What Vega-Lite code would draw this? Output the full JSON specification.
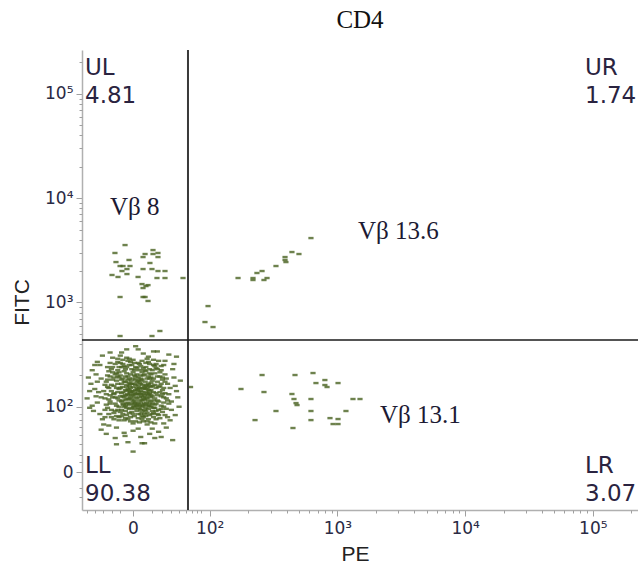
{
"$schema": "https://vega.github.io/schema/vega-lite/v6.json",
"width": 556,
"height": 460,
"autosize": {"type": "none"},
"padding": {"left": 82, "top": 50, "right": 0, "bottom": 59},
"background": "white",
"view": {"stroke": null},
"title": {"text": "CD4", "font": "Liberation Serif", "fontSize": 25, "fontWeight": "normal", "color": "#111111", "offset": 16},
"datasets": {
"events": [
{"pe":1.31,"fitc":2.05},{"pe":1.34,"fitc":2.11},{"pe":1.37,"fitc":2.02},{"pe":1.40,"fitc":2.19},{"pe":1.43,"fitc":2.08},{"pe":1.46,"fitc":2.15},{"pe":1.49,"fitc":2.03},{"pe":1.52,"fitc":2.22},{"pe":1.55,"fitc":2.10},{"pe":1.33,"fitc":2.24},
{"pe":1.36,"fitc":2.17},{"pe":1.39,"fitc":2.07},{"pe":1.42,"fitc":2.26},{"pe":1.45,"fitc":2.01},{"pe":1.48,"fitc":2.12},{"pe":1.51,"fitc":2.18},{"pe":1.54,"fitc":2.05},{"pe":1.32,"fitc":2.14},{"pe":1.35,"fitc":2.21},{"pe":1.38,"fitc":2.09},
{"pe":1.41,"fitc":2.13},{"pe":1.44,"fitc":2.20},{"pe":1.47,"fitc":2.06},{"pe":1.50,"fitc":2.14},{"pe":1.53,"fitc":2.27},{"pe":1.30,"fitc":2.10},{"pe":1.33,"fitc":2.00},{"pe":1.36,"fitc":2.26},{"pe":1.39,"fitc":2.15},{"pe":1.42,"fitc":2.04},
{"pe":1.45,"fitc":2.23},{"pe":1.48,"fitc":2.17},{"pe":1.51,"fitc":2.08},{"pe":1.54,"fitc":2.16},{"pe":1.315,"fitc":2.19},{"pe":1.345,"fitc":2.07},{"pe":1.375,"fitc":2.13},{"pe":1.405,"fitc":2.00},{"pe":1.435,"fitc":2.16},{"pe":1.465,"fitc":2.10},
{"pe":1.495,"fitc":2.24},{"pe":1.525,"fitc":2.12},{"pe":1.555,"fitc":2.20},{"pe":1.325,"fitc":2.02},{"pe":1.355,"fitc":2.12},{"pe":1.385,"fitc":2.25},{"pe":1.415,"fitc":2.09},{"pe":1.445,"fitc":2.12},{"pe":1.475,"fitc":2.21},{"pe":1.505,"fitc":2.04},
{"pe":1.535,"fitc":2.09},{"pe":1.32,"fitc":2.27},{"pe":1.35,"fitc":2.03},{"pe":1.38,"fitc":2.18},{"pe":1.41,"fitc":2.22},{"pe":1.44,"fitc":2.03},{"pe":1.47,"fitc":2.26},{"pe":1.50,"fitc":2.09},{"pe":1.53,"fitc":2.01},{"pe":1.56,"fitc":2.14},
{"pe":1.31,"fitc":2.22},{"pe":1.34,"fitc":2.16},{"pe":1.37,"fitc":2.08},{"pe":1.40,"fitc":2.11},{"pe":1.43,"fitc":2.18},{"pe":1.46,"fitc":2.04},{"pe":1.49,"fitc":2.19},{"pe":1.52,"fitc":2.06},{"pe":1.55,"fitc":2.25},{"pe":1.36,"fitc":2.04},
{"pe":1.39,"fitc":2.22},{"pe":1.42,"fitc":2.16},{"pe":1.45,"fitc":2.09},{"pe":1.48,"fitc":2.01},{"pe":1.51,"fitc":2.27},{"pe":1.54,"fitc":2.19},{"pe":1.33,"fitc":2.09},{"pe":1.37,"fitc":2.20},{"pe":1.41,"fitc":2.06},{"pe":1.44,"fitc":2.14},
{"pe":1.47,"fitc":2.18},{"pe":1.50,"fitc":2.02},{"pe":1.53,"fitc":2.15},{"pe":1.34,"fitc":2.01},{"pe":1.38,"fitc":2.14},{"pe":1.42,"fitc":2.21},{"pe":1.46,"fitc":2.12},{"pe":1.50,"fitc":2.20},{"pe":1.54,"fitc":2.11},{"pe":1.35,"fitc":2.15},
{"pe":1.39,"fitc":2.03},{"pe":1.43,"fitc":2.12},{"pe":1.47,"fitc":2.02},{"pe":1.51,"fitc":2.13},{"pe":1.40,"fitc":2.27},{"pe":1.44,"fitc":2.25},{"pe":1.48,"fitc":2.07},{"pe":1.52,"fitc":2.16},{"pe":1.36,"fitc":2.11},{"pe":1.41,"fitc":2.01},
{"pe":1.45,"fitc":2.18},{"pe":1.49,"fitc":2.11},{"pe":1.53,"fitc":2.20},{"pe":1.32,"fitc":2.06},{"pe":1.46,"fitc":2.22},{"pe":1.40,"fitc":2.15},{"pe":1.43,"fitc":2.02},{"pe":1.37,"fitc":2.23},{"pe":1.49,"fitc":2.07},{"pe":1.55,"fitc":2.03},
{"pe":1.31,"fitc":2.13},{"pe":1.57,"fitc":2.08},{"pe":1.58,"fitc":2.18},{"pe":1.29,"fitc":2.17},{"pe":1.28,"fitc":2.08},
{"pe":1.49,"fitc":1.97},{"pe":1.52,"fitc":1.98},{"pe":1.55,"fitc":1.96},{"pe":1.47,"fitc":1.95},{"pe":1.51,"fitc":1.94},{"pe":1.54,"fitc":2.00},{"pe":1.57,"fitc":1.99},{"pe":1.45,"fitc":1.98},{"pe":1.58,"fitc":2.03},{"pe":1.50,"fitc":1.99},
{"pe":1.43,"fitc":1.96},{"pe":1.41,"fitc":1.98},{"pe":1.46,"fitc":1.93},{"pe":1.53,"fitc":1.92},{"pe":1.56,"fitc":1.94},{"pe":1.48,"fitc":1.90},{"pe":1.60,"fitc":1.97},{"pe":1.59,"fitc":2.11},{"pe":1.60,"fitc":2.05},{"pe":1.61,"fitc":2.14},
{"pe":1.19,"fitc":2.12},{"pe":1.22,"fitc":2.05},{"pe":1.25,"fitc":2.20},{"pe":1.27,"fitc":2.01},{"pe":1.20,"fitc":2.26},{"pe":1.23,"fitc":1.97},{"pe":1.26,"fitc":2.31},{"pe":1.28,"fitc":2.14},{"pe":1.21,"fitc":2.18},{"pe":1.24,"fitc":2.09},
{"pe":1.27,"fitc":2.25},{"pe":1.19,"fitc":2.02},{"pe":1.22,"fitc":2.29},{"pe":1.25,"fitc":1.94},{"pe":1.28,"fitc":2.35},{"pe":1.30,"fitc":1.95},{"pe":1.23,"fitc":2.15},{"pe":1.26,"fitc":2.03},{"pe":1.29,"fitc":2.28},{"pe":1.21,"fitc":1.93},
{"pe":1.24,"fitc":2.33},{"pe":1.27,"fitc":1.91},{"pe":1.18,"fitc":2.21},{"pe":1.25,"fitc":2.12},{"pe":1.29,"fitc":2.00},
{"pe":1.59,"fitc":2.24},{"pe":1.62,"fitc":2.01},{"pe":1.64,"fitc":2.18},{"pe":1.66,"fitc":2.08},{"pe":1.61,"fitc":2.29},{"pe":1.63,"fitc":1.95},{"pe":1.65,"fitc":2.13},{"pe":1.67,"fitc":2.22},{"pe":1.60,"fitc":1.92},{"pe":1.62,"fitc":2.10},
{"pe":1.64,"fitc":2.04},{"pe":1.66,"fitc":1.98},{"pe":1.63,"fitc":2.26},{"pe":1.68,"fitc":2.12},{"pe":1.61,"fitc":2.20},
{"pe":1.30,"fitc":2.30},{"pe":1.34,"fitc":2.36},{"pe":1.38,"fitc":2.31},{"pe":1.42,"fitc":2.38},{"pe":1.46,"fitc":2.30},{"pe":1.50,"fitc":2.34},{"pe":1.54,"fitc":2.31},{"pe":1.58,"fitc":2.37},{"pe":1.32,"fitc":2.41},{"pe":1.36,"fitc":2.29},
{"pe":1.40,"fitc":2.33},{"pe":1.44,"fitc":2.42},{"pe":1.48,"fitc":2.37},{"pe":1.52,"fitc":2.29},{"pe":1.56,"fitc":2.40},{"pe":1.35,"fitc":2.38},{"pe":1.41,"fitc":2.30},{"pe":1.47,"fitc":2.33},{"pe":1.53,"fitc":2.36},{"pe":1.39,"fitc":2.40},
{"pe":1.45,"fitc":2.35},{"pe":1.29,"fitc":2.38},{"pe":1.43,"fitc":2.31},{"pe":1.50,"fitc":2.42},{"pe":1.57,"fitc":2.32},
{"pe":1.31,"fitc":1.97},{"pe":1.35,"fitc":1.92},{"pe":1.39,"fitc":1.95},{"pe":1.44,"fitc":1.89},{"pe":1.48,"fitc":1.86},{"pe":1.52,"fitc":1.88},{"pe":1.56,"fitc":1.90},{"pe":1.33,"fitc":1.87},{"pe":1.37,"fitc":1.98},{"pe":1.41,"fitc":1.91},
{"pe":1.45,"fitc":1.85},{"pe":1.50,"fitc":1.91},{"pe":1.54,"fitc":1.85},{"pe":1.58,"fitc":1.88},{"pe":1.29,"fitc":1.90},{"pe":1.42,"fitc":1.86},{"pe":1.36,"fitc":1.88},{"pe":1.47,"fitc":1.88},{"pe":1.40,"fitc":1.84},{"pe":1.34,"fitc":1.96},
{"pe":1.38,"fitc":1.90},{"pe":1.57,"fitc":1.84},{"pe":1.51,"fitc":1.83},{"pe":1.44,"fitc":1.93},{"pe":1.32,"fitc":1.93},
{"pe":1.20,"fitc":2.30},{"pe":1.23,"fitc":2.36},{"pe":1.26,"fitc":2.41},{"pe":1.29,"fitc":2.33},{"pe":1.32,"fitc":2.45},{"pe":1.35,"fitc":2.32},{"pe":1.38,"fitc":2.43},{"pe":1.41,"fitc":2.35},{"pe":1.44,"fitc":2.28},{"pe":1.47,"fitc":2.44},
{"pe":1.50,"fitc":2.38},{"pe":1.53,"fitc":2.32},{"pe":1.56,"fitc":2.45},{"pe":1.59,"fitc":2.29},{"pe":1.62,"fitc":2.35},{"pe":1.65,"fitc":2.31},{"pe":1.22,"fitc":2.42},{"pe":1.25,"fitc":2.28},{"pe":1.28,"fitc":2.46},{"pe":1.31,"fitc":2.38},
{"pe":1.34,"fitc":2.29},{"pe":1.37,"fitc":2.40},{"pe":1.40,"fitc":2.45},{"pe":1.43,"fitc":2.37},{"pe":1.46,"fitc":2.27},{"pe":1.49,"fitc":2.31},{"pe":1.52,"fitc":2.43},{"pe":1.55,"fitc":2.35},{"pe":1.58,"fitc":2.41},{"pe":1.61,"fitc":2.33},
{"pe":1.64,"fitc":2.40},{"pe":1.24,"fitc":2.38},{"pe":1.27,"fitc":2.32},{"pe":1.30,"fitc":2.42},{"pe":1.33,"fitc":2.34},{"pe":1.36,"fitc":2.44},{"pe":1.39,"fitc":2.36},{"pe":1.42,"fitc":2.29},{"pe":1.45,"fitc":2.41},{"pe":1.48,"fitc":2.30},
{"pe":1.51,"fitc":2.46},{"pe":1.54,"fitc":2.28},{"pe":1.57,"fitc":2.39},{"pe":1.60,"fitc":2.44},{"pe":1.63,"fitc":2.28},{"pe":1.21,"fitc":2.34},{"pe":1.35,"fitc":2.47},{"pe":1.46,"fitc":2.39},{"pe":1.53,"fitc":2.41},{"pe":1.41,"fitc":2.42},
{"pe":1.28,"fitc":2.29},{"pe":1.37,"fitc":2.27},{"pe":1.49,"fitc":2.35},{"pe":1.59,"fitc":2.36},{"pe":1.33,"fitc":2.39},
{"pe":1.17,"fitc":2.15},{"pe":1.19,"fitc":2.24},{"pe":1.21,"fitc":2.07},{"pe":1.23,"fitc":2.21},{"pe":1.25,"fitc":2.13},{"pe":1.27,"fitc":2.18},{"pe":1.29,"fitc":2.06},{"pe":1.20,"fitc":2.19},{"pe":1.22,"fitc":2.11},{"pe":1.24,"fitc":2.26},
{"pe":1.26,"fitc":2.09},{"pe":1.28,"fitc":2.22},{"pe":1.18,"fitc":2.08},{"pe":1.63,"fitc":2.16},{"pe":1.65,"fitc":2.24},{"pe":1.67,"fitc":2.06},{"pe":1.69,"fitc":2.18},{"pe":1.62,"fitc":2.22},{"pe":1.64,"fitc":2.09},{"pe":1.66,"fitc":2.27},
{"pe":1.68,"fitc":2.03},{"pe":1.63,"fitc":2.12},{"pe":1.57,"fitc":2.21},{"pe":1.56,"fitc":2.27},{"pe":1.58,"fitc":2.13},{"pe":1.60,"fitc":2.19},{"pe":1.59,"fitc":2.06},{"pe":1.30,"fitc":2.18},{"pe":1.32,"fitc":2.10},{"pe":1.34,"fitc":2.24},
{"pe":1.36,"fitc":2.07},{"pe":1.38,"fitc":2.22},{"pe":1.40,"fitc":2.05},{"pe":1.42,"fitc":2.12},{"pe":1.44,"fitc":2.17},{"pe":1.46,"fitc":2.25},{"pe":1.48,"fitc":2.09},{"pe":1.50,"fitc":2.17},{"pe":1.52,"fitc":2.11},{"pe":1.54,"fitc":2.23},
{"pe":1.56,"fitc":2.06},{"pe":1.31,"fitc":2.26},{"pe":1.43,"fitc":2.24},{"pe":1.47,"fitc":2.14},{"pe":1.39,"fitc":2.11},{"pe":1.51,"fitc":2.21},{"pe":1.35,"fitc":2.19},{"pe":1.45,"fitc":2.06},{"pe":1.53,"fitc":2.13},{"pe":1.37,"fitc":2.16},
{"pe":1.20,"fitc":1.99},{"pe":1.23,"fitc":1.90},{"pe":1.26,"fitc":1.96},{"pe":1.29,"fitc":1.87},{"pe":1.32,"fitc":2.03},{"pe":1.35,"fitc":1.99},{"pe":1.38,"fitc":1.86},{"pe":1.41,"fitc":2.03},{"pe":1.44,"fitc":1.99},{"pe":1.47,"fitc":1.91},
{"pe":1.50,"fitc":1.96},{"pe":1.53,"fitc":2.03},{"pe":1.56,"fitc":1.99},{"pe":1.59,"fitc":1.93},{"pe":1.62,"fitc":1.98},{"pe":1.65,"fitc":1.92},{"pe":1.22,"fitc":2.03},{"pe":1.25,"fitc":1.88},{"pe":1.28,"fitc":1.97},{"pe":1.31,"fitc":1.91},
{"pe":1.34,"fitc":1.89},{"pe":1.37,"fitc":1.94},{"pe":1.40,"fitc":1.93},{"pe":1.43,"fitc":2.01},{"pe":1.46,"fitc":1.97},{"pe":1.49,"fitc":1.93},{"pe":1.52,"fitc":2.01},{"pe":1.55,"fitc":1.93},{"pe":1.58,"fitc":1.96},{"pe":1.61,"fitc":1.89},
{"pe":1.64,"fitc":2.00},{"pe":1.39,"fitc":1.99},{"pe":1.47,"fitc":2.00},{"pe":1.51,"fitc":1.86},{"pe":1.57,"fitc":2.02},
{"pe":1.04,"fitc":2.08},{"pe":1.07,"fitc":2.22},{"pe":1.09,"fitc":1.96},{"pe":1.11,"fitc":2.31},{"pe":1.13,"fitc":2.14},{"pe":1.06,"fitc":1.99},{"pe":1.14,"fitc":2.40},{"pe":1.16,"fitc":1.88},{"pe":1.10,"fitc":2.17},{"pe":1.12,"fitc":2.04},
{"pe":1.15,"fitc":2.27},{"pe":1.08,"fitc":2.35},{"pe":1.17,"fitc":1.83},{"pe":1.15,"fitc":2.09},{"pe":1.24,"fitc":2.47},{"pe":1.31,"fitc":2.52},{"pe":1.37,"fitc":2.46},{"pe":1.44,"fitc":2.55},{"pe":1.52,"fitc":2.48},{"pe":1.59,"fitc":2.53},
{"pe":1.65,"fitc":2.44},{"pe":1.71,"fitc":2.36},{"pe":1.73,"fitc":2.20},{"pe":1.75,"fitc":2.09},{"pe":1.70,"fitc":1.97},{"pe":1.72,"fitc":2.28},{"pe":1.69,"fitc":1.87},{"pe":1.74,"fitc":2.15},{"pe":1.66,"fitc":1.80},{"pe":1.60,"fitc":1.76},
{"pe":1.53,"fitc":1.74},{"pe":1.46,"fitc":1.71},{"pe":1.40,"fitc":1.77},{"pe":1.33,"fitc":1.75},{"pe":1.27,"fitc":1.80},{"pe":1.21,"fitc":1.82},{"pe":1.19,"fitc":1.74},{"pe":1.36,"fitc":1.66},{"pe":1.47,"fitc":1.65},{"pe":1.49,"fitc":1.65},
{"pe":1.57,"fitc":1.70},{"pe":1.44,"fitc":1.79},{"pe":1.30,"fitc":2.49},{"pe":1.48,"fitc":2.51},{"pe":1.28,"fitc":2.43},{"pe":1.62,"fitc":2.39},{"pe":1.20,"fitc":2.38},{"pe":1.18,"fitc":1.97},{"pe":1.70,"fitc":2.05},{"pe":1.42,"fitc":2.58},
{"pe":1.12,"fitc":2.24},{"pe":1.67,"fitc":1.90},{"pe":1.40,"fitc":1.57},{"pe":1.26,"fitc":1.70},{"pe":1.55,"fitc":1.79},{"pe":1.337,"fitc":1.72},{"pe":1.71,"fitc":1.68},{"pe":1.74,"fitc":2.48},{"pe":1.12,"fitc":2.43},
{"pe":1.05,"fitc":2.28},{"pe":1.08,"fitc":2.01},{"pe":1.10,"fitc":2.40},{"pe":1.14,"fitc":1.93},{"pe":1.16,"fitc":2.49},{"pe":1.06,"fitc":2.15},{"pe":1.72,"fitc":2.41},{"pe":1.76,"fitc":2.00},{"pe":1.73,"fitc":1.92},{"pe":1.68,"fitc":2.50},
{"pe":1.64,"fitc":1.84},{"pe":1.22,"fitc":2.52},{"pe":1.18,"fitc":1.90},{"pe":1.11,"fitc":2.10},{"pe":1.77,"fitc":2.25},{"pe":1.35,"fitc":2.55},{"pe":1.56,"fitc":2.53},{"pe":1.27,"fitc":1.64},{"pe":1.62,"fitc":1.71},{"pe":1.15,"fitc":1.78},
{"pe":1.337,"fitc":3.550},{"pe":1.258,"fitc":3.474},{"pe":1.266,"fitc":3.387},{"pe":1.298,"fitc":3.349},{"pe":1.321,"fitc":3.349},{"pe":1.368,"fitc":3.407},{"pe":1.376,"fitc":3.349},{"pe":1.352,"fitc":3.320},{"pe":1.313,"fitc":3.301},{"pe":1.352,"fitc":3.272},
{"pe":1.282,"fitc":3.244},{"pe":1.235,"fitc":3.263},{"pe":1.439,"fitc":3.244},{"pe":1.478,"fitc":3.435},{"pe":1.494,"fitc":3.464},{"pe":1.556,"fitc":3.502},{"pe":1.556,"fitc":3.464},{"pe":1.595,"fitc":3.474},{"pe":1.595,"fitc":3.435},{"pe":1.532,"fitc":3.378},
{"pe":1.478,"fitc":3.320},{"pe":1.548,"fitc":3.320},{"pe":1.595,"fitc":3.301},{"pe":1.650,"fitc":3.301},{"pe":1.587,"fitc":3.234},{"pe":1.650,"fitc":3.234},{"pe":1.791,"fitc":3.234},{"pe":1.470,"fitc":3.176},{"pe":1.501,"fitc":3.157},{"pe":1.517,"fitc":3.166},
{"pe":1.478,"fitc":3.138},{"pe":1.298,"fitc":3.052},{"pe":1.478,"fitc":3.052},{"pe":1.494,"fitc":3.052},{"pe":1.517,"fitc":3.014},{"pe":1.298,"fitc":2.678},{"pe":1.548,"fitc":2.678},{"pe":1.610,"fitc":2.726},
{"pe":2.793,"fitc":3.617},{"pe":2.644,"fitc":3.483},{"pe":2.699,"fitc":3.464},{"pe":2.590,"fitc":3.435},{"pe":2.590,"fitc":3.407},{"pe":2.597,"fitc":3.387},{"pe":2.519,"fitc":3.349},{"pe":2.410,"fitc":3.301},{"pe":2.370,"fitc":3.282},{"pe":2.449,"fitc":3.234},
{"pe":2.425,"fitc":3.215},{"pe":2.339,"fitc":3.234},{"pe":2.339,"fitc":3.215},{"pe":2.222,"fitc":3.234},{"pe":1.987,"fitc":2.965},{"pe":1.963,"fitc":2.812},{"pe":2.026,"fitc":2.764},
{"pe":2.410,"fitc":2.304},{"pe":2.668,"fitc":2.304},{"pe":2.809,"fitc":2.323},{"pe":2.832,"fitc":2.227},{"pe":2.902,"fitc":2.256},{"pe":2.902,"fitc":2.208},{"pe":2.919,"fitc":2.189},{"pe":3.005,"fitc":2.227},{"pe":2.245,"fitc":2.170},{"pe":2.425,"fitc":2.141},
{"pe":2.644,"fitc":2.122},{"pe":2.660,"fitc":2.074},{"pe":2.676,"fitc":2.035},{"pe":2.684,"fitc":2.016},{"pe":2.793,"fitc":2.074},{"pe":3.122,"fitc":2.074},{"pe":3.177,"fitc":2.074},{"pe":2.519,"fitc":1.959},{"pe":2.793,"fitc":1.959},{"pe":3.067,"fitc":1.959},
{"pe":2.355,"fitc":1.872},{"pe":2.793,"fitc":1.872},{"pe":2.942,"fitc":1.891},{"pe":3.005,"fitc":1.882},{"pe":2.966,"fitc":1.834},{"pe":3.005,"fitc":1.834},{"pe":2.652,"fitc":1.796},{"pe":1.850,"fitc":2.189}
],
"quadrants": [
{"pe":1.0235,"fitc":5.353,"name":"UL","pct":4.81},
{"pe":4.939,"fitc":5.353,"name":"UR","pct":1.74},
{"pe":1.0235,"fitc":1.537,"name":"LL","pct":90.38},
{"pe":4.939,"fitc":1.537,"name":"LR","pct":3.07}
],
"families": [
{"pe":1.219,"fitc":3.915,"label":"Vβ 8"},
{"pe":3.161,"fitc":3.685,"label":"Vβ 13.6"},
{"pe":3.334,"fitc":1.920,"label":"Vβ 13.1"}
]
},
"resolve": {"axis": {"x": "independent", "y": "independent"}},
"layer": [
{
"data": {"name": "events"},
"mark": {"type": "point", "shape": "M-1.5,-0.7H1.5V0.7H-1.5Z", "filled": true, "size": 12, "color": "#4a6322", "opacity": 0.8, "strokeWidth": 0},
"encoding": {
"x": {"field": "pe", "type": "quantitative", "scale": {"domain": [1.0, 5.354], "nice": false, "zero": false},
"axis": {"orient": "bottom", "title": "PE", "titleFont": "Liberation Sans", "titleFontSize": 21, "titleFontWeight": "normal", "titleColor": "#222222", "titlePadding": 7, "titleX": 273,
"values": [1.399, 2, 3, 4, 5],
"labelExpr": "datum.value < 1.5 ? '0' : datum.value == 2 ? '10²' : datum.value == 3 ? '10³' : datum.value == 4 ? '10⁴' : '10⁵'",
"labelFont": "DejaVu Sans", "labelFontSize": 17, "labelColor": "#2a2a44", "labelFlush": false, "labelOverlap": false, "labelPadding": 4,
"tickSize": 6, "tickColor": "#a0a0a0", "domainColor": "#b0b0b0", "domainWidth": 1.5, "grid": false}},
"y": {"field": "fitc", "type": "quantitative", "scale": {"domain": [1.01, 5.42], "nice": false, "zero": false},
"axis": {"orient": "left", "title": "FITC", "titleFont": "Liberation Sans", "titleFontSize": 21, "titleFontWeight": "normal", "titleColor": "#222222", "titlePadding": 12, "titleY": 252,
"values": [1.374, 2, 3, 4, 5],
"labelExpr": "datum.value < 1.5 ? '0' : datum.value == 2 ? '10²' : datum.value == 3 ? '10³' : datum.value == 4 ? '10⁴' : '10⁵'",
"labelFont": "DejaVu Sans", "labelFontSize": 17, "labelColor": "#2a2a44", "labelFlush": false, "labelOverlap": false, "labelPadding": 3,
"tickSize": 6, "tickColor": "#a0a0a0", "domainColor": "#b0b0b0", "domainWidth": 1.5, "grid": false}}
}
},
{
"data": {"values": [{"pe": 1.83}]},
"mark": {"type": "rule", "color": "#3a3a3a", "strokeWidth": 2},
"encoding": {"x": {"field": "pe", "type": "quantitative", "scale": {"domain": [1.0, 5.354], "nice": false, "zero": false},
"axis": {"orient": "bottom", "title": null, "labels": false, "domain": false, "grid": false, "tickSize": 3, "tickColor": "#a0a0a0",
"values": [1.039,1.102,1.164,1.235,1.298,1.548,1.626,1.697,1.76,1.814,1.861,1.901,1.932,2.301,2.477,2.602,2.699,2.778,2.845,2.903,2.954,3.301,3.477,3.602,3.699,3.778,3.845,3.903,3.954,4.301,4.477,4.602,4.699,4.778,4.845,4.903,4.954,5.301]}}}
},
{
"data": {"values": [{"fitc": 2.64}]},
"mark": {"type": "rule", "color": "#1a1a1a", "strokeWidth": 1.5},
"encoding": {"y": {"field": "fitc", "type": "quantitative", "scale": {"domain": [1.01, 5.42], "nice": false, "zero": false},
"axis": {"orient": "left", "title": null, "labels": false, "domain": false, "grid": false, "tickSize": 3, "tickColor": "#a0a0a0",
"values": [1.134,1.221,1.47,1.537,1.642,1.729,1.805,1.872,1.93,2.301,2.477,2.602,2.699,2.778,2.845,2.903,2.954,3.301,3.477,3.602,3.699,3.778,3.845,3.903,3.954,4.301,4.477,4.602,4.699,4.778,4.845,4.903,4.954,5.301]}}}
},
{
"data": {"name": "quadrants"},
"mark": {"type": "text", "align": "left", "baseline": "top", "font": "DejaVu Sans", "fontSize": 23, "color": "#2a2340"},
"encoding": {
"x": {"field": "pe", "type": "quantitative", "scale": {"domain": [1.0, 5.354], "nice": false, "zero": false}, "axis": null},
"y": {"field": "fitc", "type": "quantitative", "scale": {"domain": [1.01, 5.42], "nice": false, "zero": false}, "axis": null},
"text": {"field": "name"}
}
},
{
"data": {"name": "quadrants"},
"mark": {"type": "text", "align": "left", "baseline": "top", "font": "DejaVu Sans", "fontSize": 23, "color": "#2a2340", "dy": 28},
"encoding": {
"x": {"field": "pe", "type": "quantitative", "scale": {"domain": [1.0, 5.354], "nice": false, "zero": false}, "axis": null},
"y": {"field": "fitc", "type": "quantitative", "scale": {"domain": [1.01, 5.42], "nice": false, "zero": false}, "axis": null},
"text": {"field": "pct", "type": "quantitative", "format": ".2f"}
}
},
{
"data": {"name": "families"},
"mark": {"type": "text", "align": "left", "baseline": "middle", "font": "Liberation Serif", "fontSize": 25, "color": "#1c1a33"},
"encoding": {
"x": {"field": "pe", "type": "quantitative", "scale": {"domain": [1.0, 5.354], "nice": false, "zero": false}, "axis": null},
"y": {"field": "fitc", "type": "quantitative", "scale": {"domain": [1.01, 5.42], "nice": false, "zero": false}, "axis": null},
"text": {"field": "label"}
}
}
]
}
